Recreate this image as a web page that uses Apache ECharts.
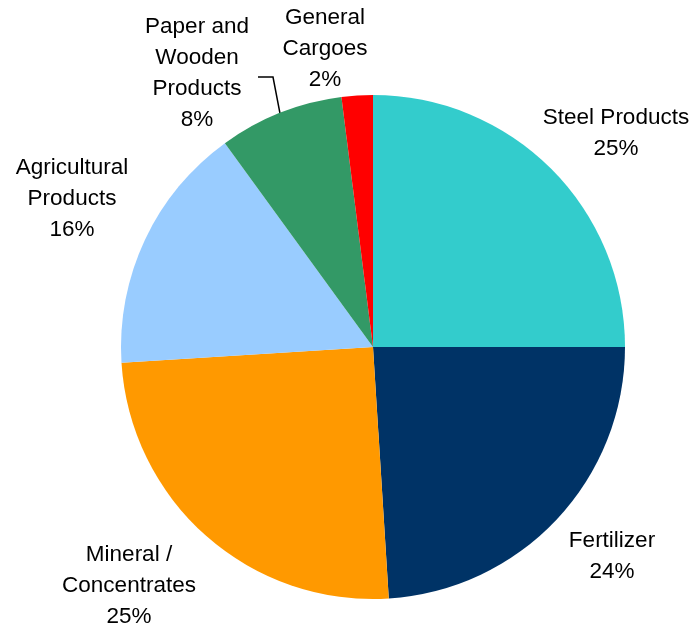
<!DOCTYPE html>
<html>
<head>
<meta charset="utf-8">
<script src="https://cdn.jsdelivr.net/npm/echarts@6/dist/echarts.min.js"></script>
<style>
  html, body { margin: 0; padding: 0; background: #fff; }
  #chart { width: 697px; height: 630px; }
</style>
</head>
<body>
<div id="chart"></div>
<script>
// Cargo mix by category (share of total, %)
const categories = [
  'Steel Products',
  'Fertilizer',
  'Mineral /\nConcentrates',
  'Agricultural\nProducts',
  'Paper and\nWooden\nProducts',
  'General\nCargoes'
];
const shares = [25, 24, 25, 16, 8, 2];
const colors = ['#33CCCC', '#003366', '#FF9900', '#99CCFF', '#339966', '#FF0000'];

// Where each label block sits (centre of the text block)
const labelSpots = [
  [616, 133],
  [612, 556],
  [129, 586],
  [72, 199],
  [197, 73],
  [325, 49]
];
// Only the paper slice gets a leader line
const leaderIndex = 4;

const chart = echarts.init(document.getElementById('chart'), null, { renderer: 'canvas' });

chart.setOption({
  animation: false,
  backgroundColor: '#ffffff',
  series: [{
    type: 'pie',
    center: [373, 347],
    radius: [0, 252],
    startAngle: 90,
    clockwise: true,
    percentPrecision: 0,
    avoidLabelOverlap: false,
    emphasis: { disabled: true },
    itemStyle: { borderWidth: 0 },
    label: {
      show: true,
      position: 'outside',
      formatter: '{b}\n{d}%',
      fontFamily: 'Liberation Sans, Arial, sans-serif',
      fontSize: 22.5,
      lineHeight: 31,
      color: '#000000',
      align: 'center'
    },
    labelLine: {
      show: false,
      lineStyle: { color: '#000000', width: 1.5 }
    },
    labelLayout: function (params) {
      const spot = labelSpots[params.dataIndex];
      const out = {
        x: spot[0],
        y: spot[1],
        align: 'center',
        verticalAlign: 'middle'
      };
      if (params.dataIndex === leaderIndex && params.labelLinePoints) {
        const start = params.labelLinePoints[0];
        out.labelLinePoints = [
          [start[0], start[1] + 2],
          [spot[0] + 76, spot[1] + 4],
          [spot[0] + 61, spot[1] + 4]
        ];
      }
      return out;
    },
    data: categories.map(function (name, i) {
      const item = {
        name: name,
        value: shares[i],
        itemStyle: { color: colors[i] }
      };
      if (i === leaderIndex) {
        item.labelLine = { show: true, length: 10, length2: 10 };
      }
      return item;
    })
  }]
});
</script>
</body>
</html>
